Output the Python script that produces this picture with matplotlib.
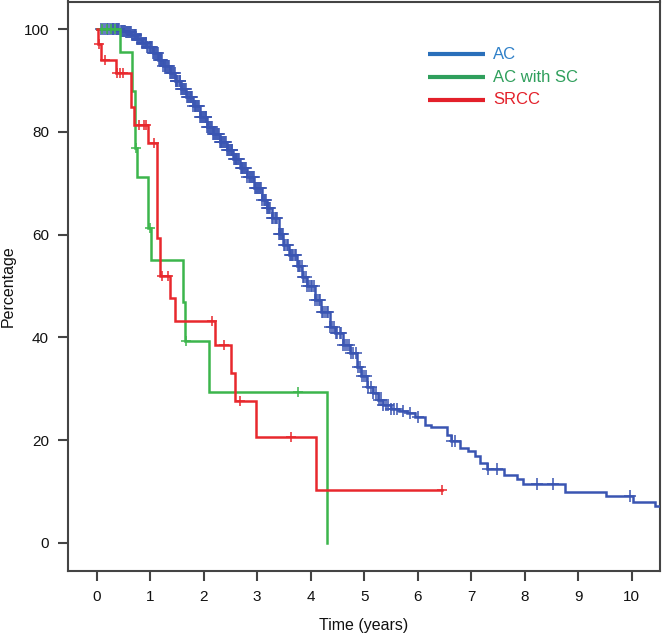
import numpy as np
import matplotlib
matplotlib.use("Agg")
import matplotlib.pyplot as plt

plt.rcParams['font.family'] = ['Liberation Sans', 'DejaVu Sans']

# ---- data ----
# AC (blue) Kaplan-Meier knots: time (years), survival (%)
ac_t = [0.00, 0.30, 0.45, 0.55, 0.65, 0.75, 0.85, 0.94, 1.05, 1.15, 1.25, 1.37,
        1.47, 1.57, 1.68, 1.80, 1.93, 2.06, 2.18, 2.30, 2.43, 2.55, 2.68, 2.81,
        2.95, 3.09, 3.18, 3.28, 3.40, 3.49, 3.60, 3.74, 3.84, 3.93, 4.08, 4.20,
        4.36, 4.46, 4.60, 4.74, 4.86, 4.95, 5.05, 5.17, 5.26, 5.36, 5.50, 5.65,
        5.80, 5.95, 6.14, 6.25, 6.55, 6.62, 6.79, 6.95, 7.08, 7.17, 7.30, 7.62,
        7.85, 7.97, 8.75, 9.52, 10.02, 10.44, 10.60]
ac_s = [100.0, 100.0, 99.7, 99.4, 98.8, 98.0, 97.3, 96.6, 95.3, 94.0, 92.8, 91.4,
        89.9, 88.4, 86.8, 85.0, 83.0, 81.0, 79.5, 78.0, 76.5, 74.8, 73.0, 71.3,
        69.0, 66.7, 65.2, 63.2, 60.2, 58.0, 56.0, 53.8, 51.8, 49.9, 47.3, 45.0,
        42.1, 40.8, 38.5, 36.9, 34.3, 32.4, 30.4, 29.1, 27.8, 26.8, 26.0, 25.6,
        25.2, 24.4, 23.0, 22.5, 21.0, 19.9, 18.5, 17.8, 16.8, 15.6, 14.3, 13.2,
        12.4, 11.4, 9.9, 9.0, 8.0, 7.1, 7.1]
ac_cens = [0.08, 0.12, 0.15, 0.19, 0.22, 0.25, 0.28, 0.31, 0.33, 0.36, 0.38, 0.40,
           0.42, 0.45, 0.47, 0.49, 0.51, 0.53, 0.55, 0.57, 0.58, 0.60, 0.62, 0.64,
           0.66, 0.68, 0.69, 0.71, 0.72, 0.74, 0.76, 0.78, 0.79, 0.81, 0.83, 0.85,
           0.86, 0.88, 0.90, 0.92, 0.93, 0.95, 0.97, 0.99, 1.00, 1.02, 1.04, 1.06,
           1.07, 1.09, 1.11, 1.13, 1.14, 1.16, 1.18, 1.20, 1.21, 1.23, 1.25, 1.27,
           1.28, 1.30, 1.32, 1.34, 1.35, 1.37, 1.39, 1.41, 1.42, 1.44, 1.46, 1.48,
           1.49, 1.51, 1.53, 1.55, 1.56, 1.58, 1.60, 1.62, 1.63, 1.65, 1.67, 1.69,
           1.70, 1.72, 1.74, 1.76, 1.77, 1.79, 1.81, 1.83, 1.84, 1.86, 1.88, 1.90,
           1.91, 1.93, 1.95, 1.97, 1.98, 2.00, 2.02, 2.04, 2.05, 2.07, 2.09, 2.11,
           2.12, 2.14, 2.16, 2.18, 2.19, 2.21, 2.23, 2.25, 2.26, 2.28, 2.30, 2.32,
           2.33, 2.35, 2.37, 2.39, 2.40, 2.42, 2.44, 2.46, 2.47, 2.49, 2.51, 2.53,
           2.54, 2.56, 2.58, 2.60, 2.61, 2.63, 2.65, 2.67, 2.69, 2.71, 2.72, 2.74,
           2.76, 2.78, 2.80, 2.82, 2.84, 2.86, 2.88, 2.90, 2.92, 2.94, 2.96, 2.98,
           3.00, 3.02, 3.04, 3.06, 3.08, 3.10, 3.12, 3.14, 3.16, 3.18, 3.20, 3.23,
           3.25, 3.28, 3.30, 3.33, 3.35, 3.38, 3.40, 3.42, 3.44, 3.46, 3.48, 3.51,
           3.53, 3.56, 3.58, 3.61, 3.63, 3.66, 3.68, 3.71, 3.73, 3.76, 3.78, 3.81,
           3.83, 3.86, 3.88, 3.91, 3.94, 3.97, 4.00, 4.03, 4.06, 4.09, 4.12, 4.15,
           4.18, 4.21, 4.24, 4.27, 4.30, 4.33, 4.36, 4.40, 4.43, 4.47, 4.50, 4.54,
           4.57, 4.61, 4.64, 4.68, 4.72, 4.76, 4.80, 4.84, 4.88, 4.92, 4.96, 5.00,
           5.04, 5.08, 5.12, 5.17, 5.22, 5.27, 5.32, 5.36, 5.40, 5.45, 5.50, 5.55,
           5.62, 5.72, 5.85, 6.00, 6.64, 6.70, 7.32, 7.48, 8.23, 8.53, 9.97]

# AC with SC (green)
sc_t = [0.00, 0.44, 0.66, 0.72, 0.76, 0.96, 1.01, 1.61, 1.66, 2.11, 4.31]
sc_s = [100.0, 95.6, 88.0, 76.8, 71.3, 61.3, 55.1, 46.9, 39.2, 29.4, 0.0]
sc_cens = [0.10, 0.20, 0.27, 0.35, 0.74, 1.00, 1.68, 3.77]

# SRCC (red)
sr_t = [0.00, 0.03, 0.09, 0.36, 0.64, 0.70, 0.97, 1.12, 1.18, 1.37, 1.46,
        2.21, 2.52, 2.59, 2.98, 4.11, 6.45]
sr_s = [100.0, 97.2, 94.1, 91.4, 84.8, 81.3, 77.9, 59.3, 51.9, 47.6, 43.2,
        38.5, 33.0, 27.6, 20.6, 10.2, 10.2]
sr_cens = [0.05, 0.16, 0.38, 0.44, 0.50, 0.80, 0.88, 0.93, 1.08, 1.22, 1.33,
           2.15, 2.38, 2.68, 3.63, 6.45]

groups = ["AC", "AC with SC", "SRCC"]
x_ticks = list(range(0, 11))
y_ticks = [0, 20, 40, 60, 80, 100]

# ---- style ----
curve_colors = ['#3a55b2', '#3cb54c', '#e8282d']
legend_line_colors = ['#2a6fba', '#2f9f5c', '#e3202a']
legend_text_colors = ['#2f80c8', '#2f9f5c', '#e3202a']

fig = plt.figure(figsize=(6.62, 6.33), dpi=100)
ax = fig.add_axes([67.7 / 662, (633 - 571.3) / 633, (660 - 67.7) / 662, (571.3 - 1.5) / 633])


def surv_at(times, surv, q):
    idx = np.searchsorted(np.asarray(times), np.asarray(q), side='right') - 1
    return np.asarray(surv)[idx]


series = [(ac_t, ac_s, ac_cens), (sc_t, sc_s, sc_cens), (sr_t, sr_s, sr_cens)]
msizes = [8, 7, 7]
for (t, s, c), col, ms in zip(series, curve_colors, msizes):
    ax.step(t, s, where='post', color=col, lw=1.8, solid_joinstyle='miter', zorder=3)
    ax.plot(c, surv_at(t, s, c), linestyle='none', marker='+', color=col,
            markersize=ms, mew=1.1, zorder=3)

ax.set_xlim(-0.54, 10.53)
ax.set_ylim(-5.57, 105.4)
ax.set_xticks(x_ticks)
ax.set_yticks(y_ticks)
ax.tick_params(axis='both', length=7, width=1.5, color='#444444', labelsize=11,
               pad=6.5, labelcolor='#111111')
for sp in ax.spines.values():
    sp.set_linewidth(1.5)
    sp.set_color('#444444')

ax.set_xlabel('Time (years)', fontsize=11.5, labelpad=10, color='#111111')
ax.set_ylabel('Percentage', fontsize=11.5, color='#111111')
ax.yaxis.set_label_coords(-0.087, 0.5)

# legend (manual, in axes fraction)
ys = [0.907, 0.867, 0.828]
for name, lc, tc, yy in zip(groups, legend_line_colors, legend_text_colors, ys):
    ax.plot([0.608, 0.705], [yy, yy], transform=ax.transAxes, color=lc, lw=3,
            solid_capstyle='butt', zorder=4)
    ax.text(0.718, yy, name, transform=ax.transAxes, color=tc, fontsize=12,
            va='center', ha='left')

fig.savefig('out.png', dpi=100)
